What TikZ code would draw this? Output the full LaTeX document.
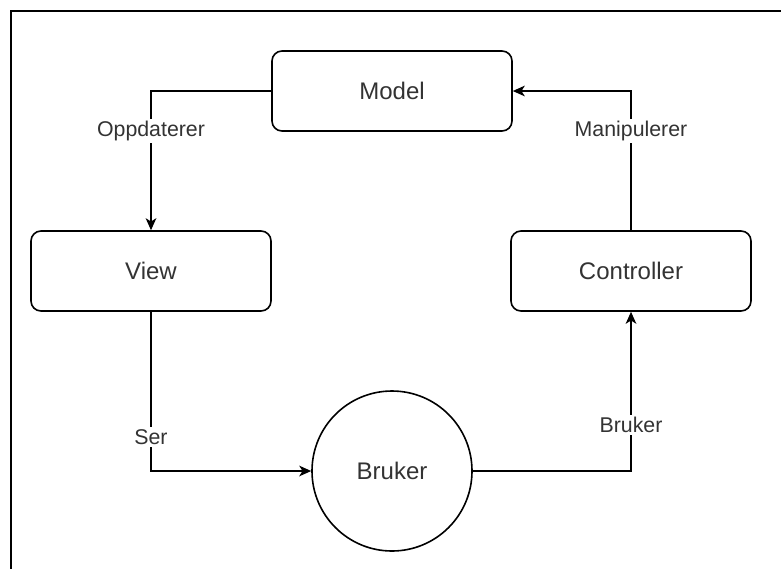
\documentclass[tikz,border=0pt]{standalone}
\usepackage{fontspec}
\setmainfont{Liberation Sans}
\usetikzlibrary{arrows.meta}
\begin{document}
\begin{tikzpicture}[x=0.75pt,y=-0.75pt,
  box/.style={draw=black, line width=1.2pt, rounded corners=7.5pt, minimum width=180pt, minimum height=60pt, inner sep=0pt, font=\fontsize{18}{21}\selectfont, text=black!80},
  circ/.style={draw=black, line width=1.2pt, circle, minimum size=120pt, inner sep=0pt, font=\fontsize{18}{21}\selectfont, text=black!80},
  conn/.style={draw=black, line width=1.2pt, -{Stealth[length=9pt,width=8pt,inset=2.5pt]}},
  lbl/.style={fill=white, inner sep=1.5pt, font=\fontsize{16}{19}\selectfont, text=black!80}]
\useasboundingbox (0,0) rectangle (781,568);
\fill[white] (0,0) rectangle (781,568);
\draw[line width=1.5pt] (11,600) -- (11,11) -- (800,11);
\node[box] (model) at (392,91) {Model};
\node[box] (view) at (151,271) {View};
\node[box] (ctrl) at (631,271) {Controller};
\node[circ] (user) at (392,471) {Bruker};
\coordinate (c1) at (151,91);
\coordinate (c2) at (151,471);
\coordinate (c3) at (631,471);
\coordinate (c4) at (631,91);
\draw[conn] (model.west) -- (c1) -- (view.north);
\draw[conn] (view.south) -- (c2) -- (user.west);
\draw[conn] (user.east) -- (c3) -- (ctrl.south);
\draw[conn] (ctrl.north) -- (c4) -- (model.east);
\node[lbl] (l1) at (151,131) {Oppdaterer};
\node[lbl] (l2) at (151,437) {Ser};
\node[lbl] (l3) at (631,425) {Bruker};
\node[lbl] (l4) at (631,131) {Manipulerer};
\end{tikzpicture}
\end{document}
